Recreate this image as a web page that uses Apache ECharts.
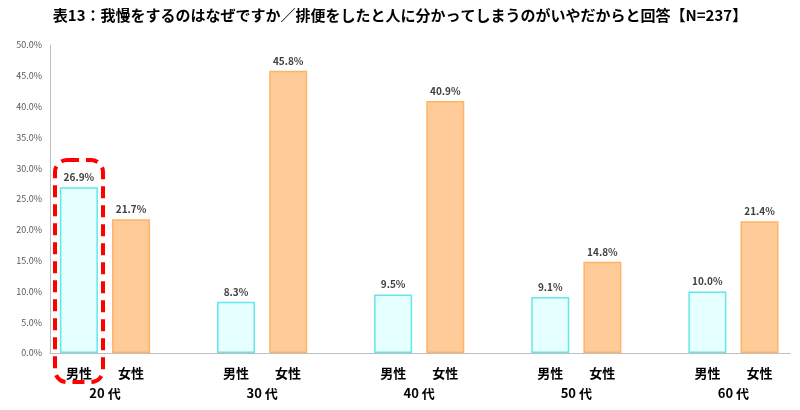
<!DOCTYPE html>
<html><head><meta charset="utf-8">
<script src="https://cdn.jsdelivr.net/npm/echarts@6/dist/echarts.min.js"></script>
<style>html,body{margin:0;padding:0;background:#fff}#c{width:800px;height:410px}</style>
</head><body><div id="c"></div>
<script>
const ages = ['20 代','30 代','40 代','50 代','60 代'];
const genders = ['男性','女性'];
const male = [26.9, 8.3, 9.5, 9.1, 10.0];
const female = [21.7, 45.8, 40.9, 14.8, 21.4];
const yTicks = [0,5,10,15,20,25,30,35,40,45,50];
const off = 0.166;
const font = '"Noto Sans CJK JP", sans-serif';
const chart = echarts.init(document.getElementById('c'));
const lbl = {show:true, position:'top', formatter: p => p.value[1].toFixed(1)+'%', fontSize:10, fontWeight:'bold', color:'#404040', fontFamily:font};
chart.setOption({
  animation:false,
  title:{text:'表13：我慢をするのはなぜですか／排便をしたと人に分かってしまうのがいやだからと回答【N=237】', left:'center', top:3, textStyle:{fontSize:15, fontWeight:'bold', color:'#000', fontFamily:font}},
  grid:{left:50, right:10, top:45, bottom:57},
  xAxis:{type:'value', min:-0.35, max:4.36, splitLine:{show:false},
    axisLine:{show:true, onZero:false, lineStyle:{color:'#bfbfbf'}}, axisTick:{show:false},
    axisLabel:{customValues:[0,1,2,3,4], margin:10, lineHeight:20,
      formatter: v => '{g|'+genders[0]+'}{g|'+genders[1]+'}\n{a|'+ages[Math.round(v)]+'}',
      rich:{g:{width:52, align:'center', fontSize:13, fontWeight:'bold', color:'#000', fontFamily:font},
            a:{fontSize:13, fontWeight:'bold', color:'#000', fontFamily:font}}}},
  yAxis:{type:'value', min:yTicks[0], max:yTicks[yTicks.length-1], interval:5, splitLine:{show:false},
    axisLine:{show:true, onZero:false, lineStyle:{color:'#bfbfbf'}}, axisTick:{show:false},
    axisLabel:{formatter: v => v.toFixed(1)+'%', fontSize:9, color:'#595959', fontFamily:font}},
  series:[
    {name:'男性', type:'bar', barWidth:38, barGap:'-100%', data: male.map((v,i)=>[i-off, v]),
     itemStyle:{color:'#e6ffff', borderColor:'#66e6e6', borderWidth:1.5}, label:lbl},
    {name:'女性', type:'bar', barWidth:38, barGap:'-100%', data: female.map((v,i)=>[i+off, v]),
     itemStyle:{color:'#ffcc99', borderColor:'#ffb366', borderWidth:1.5}, label:lbl}
  ],
  graphic:[{type:'rect', shape:{x:55, y:160, width:48, height:222, r:12},
    style:{fill:'none', stroke:'#ff0000', lineWidth:4, lineDash:[12,7]}}]
});
</script></body></html>
